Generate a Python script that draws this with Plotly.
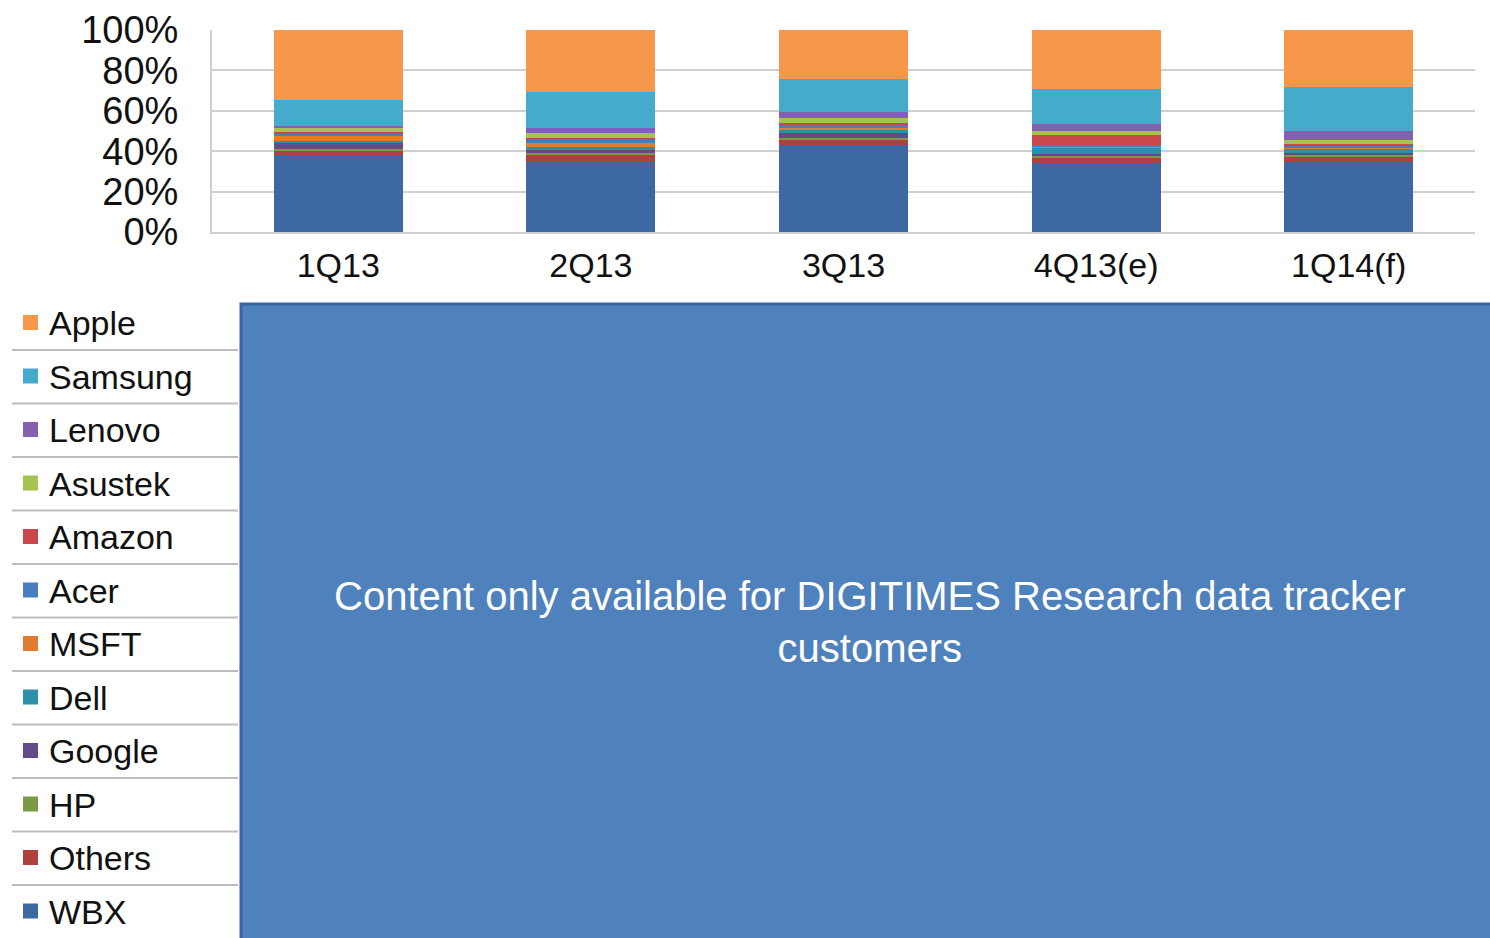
import plotly.graph_objects as go

categories = ["1Q13", "2Q13", "3Q13", "4Q13(e)", "1Q14(f)"]

# stacking order bottom -> top
WBX     = [38.0, 34.5, 43.0, 34.0, 34.5]
Others  = [2.0, 3.5, 2.5, 2.5, 2.5]
HP      = [1.0, 1.0, 1.0, 1.0, 1.0]
Google  = [3.0, 1.5, 2.5, 1.0, 1.0]
Dell    = [1.0, 1.5, 1.5, 3.0, 2.0]
MSFT    = [2.5, 2.0, 1.0, 1.0, 1.0]
Acer    = [1.0, 1.5, 1.5, 0.5, 0.5]
Amazon  = [1.0, 1.0, 1.0, 5.0, 1.0]
Asustek = [2.0, 2.5, 2.5, 2.0, 2.0]
Lenovo  = [1.0, 2.5, 3.0, 3.5, 4.5]
Samsung = [13.0, 18.0, 16.0, 17.5, 22.0]
Apple   = [34.5, 30.5, 24.5, 29.0, 28.0]

series_names = ["WBX", "Others", "HP", "Google", "Dell", "MSFT",
                "Acer", "Amazon", "Asustek", "Lenovo", "Samsung", "Apple"]
series_values = [WBX, Others, HP, Google, Dell, MSFT,
                 Acer, Amazon, Asustek, Lenovo, Samsung, Apple]
series_colors = ["#3D68A2", "#B0403D", "#7A9A45", "#634A8A", "#2E8FA8", "#E07C30",
                 "#4A7CC0", "#C9474A", "#A5C353", "#8461AE", "#46ABCB", "#F7974A"]

y_ticks = [0, 20, 40, 60, 80, 100]
y_tick_labels = ["0%", "20%", "40%", "60%", "80%", "100%"]

W, H = 1490, 938
L, R, T, B = 212, 1475, 30, 232

def px(x):
    return (x - L) / (R - L)

def py(y):
    return (B - y) / (B - T)

fig = go.Figure()
for name, vals, col in zip(series_names, series_values, series_colors):
    fig.add_trace(go.Bar(x=categories, y=vals, name=name, marker=dict(color=col, line=dict(width=0)),
                         showlegend=False))

fig.update_layout(
    barmode="stack",
    bargap=0.49,
    width=W, height=H,
    margin=dict(l=L, r=W - R, t=T, b=H - B, autoexpand=False),
    paper_bgcolor="white", plot_bgcolor="white",
    font=dict(family="Liberation Sans, Arial, sans-serif", color="#111111"),
)
fig.update_yaxes(range=[0, 100], tickvals=y_ticks, ticktext=y_tick_labels,
                 tickfont=dict(size=38, color="#111111"), showgrid=True, gridcolor="#CFCFCF",
                 gridwidth=2, showline=True, linecolor="#CFCFCF", linewidth=2,
                 ticks="", ticklabelstandoff=24, zeroline=False, automargin=False)
fig.update_xaxes(tickfont=dict(size=34, color="#111111"), showline=True, linecolor="#CFCFCF",
                 linewidth=2, ticks="", ticklabelstandoff=2, automargin=False)

# Blue overlay box
fig.add_shape(type="rect", xref="paper", yref="paper",
              x0=px(241), x1=px(1494), y0=py(304), y1=py(1000),
              fillcolor="#4F81BD", line=dict(color="#3A64A0", width=3), layer="above")
fig.add_annotation(xref="paper", yref="paper", x=px(870), y=py(622),
                   text="Content only available for DIGITIMES Research data tracker<br>customers",
                   showarrow=False, font=dict(size=40, color="white"), align="center",
                   yanchor="middle")

# Legend column (reverse order: Apple on top)
legend_top = 322
legend_step = 53.5
for i, (name, col) in enumerate(zip(series_names[::-1], series_colors[::-1])):
    yc = legend_top + i * legend_step
    fig.add_shape(type="rect", xref="paper", yref="paper",
                  x0=px(23), x1=px(38), y0=py(yc + 8), y1=py(yc - 7),
                  fillcolor=col, line=dict(width=0))
    fig.add_annotation(xref="paper", yref="paper", x=px(47), y=py(yc + 1),
                       text=name, showarrow=False, xanchor="left", yanchor="middle",
                       font=dict(size=34, color="#111111"))
    if i < len(series_names) - 1:
        ys = yc + 28
        fig.add_shape(type="line", xref="paper", yref="paper",
                      x0=px(12), x1=px(238), y0=py(ys), y1=py(ys),
                      line=dict(color="#BDBDBD", width=2))

fig.write_html("out.html")
